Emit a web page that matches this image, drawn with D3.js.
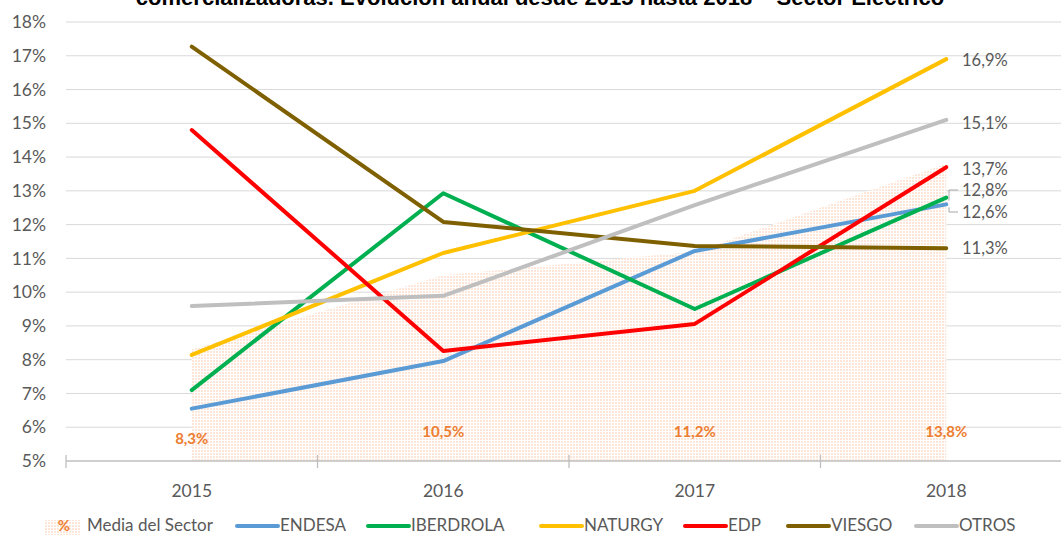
<!DOCTYPE html>
<meta charset="utf-8">
<style>
body { margin: 0; background: #fff; }
text { font-family: Lato, "Open Sans", sans-serif; fill: #595959; }
.titre { font-family: "Liberation Sans", Arial, sans-serif; font-weight: bold; fill: #000; font-size: 22px; }
.axe text { font-size: 17.5px; }
.leyenda text { font-size: 17px; }
.etiq { font-size: 16.5px; }
.media { fill: #ED7D31; font-weight: bold; font-size: 15px; }
</style>
<svg width="1061" height="535" id="mysvg"></svg>
<script src="https://cdnjs.cloudflare.com/ajax/libs/d3/7.8.5/d3.min.js"></script>
<script>

// datos
var years = ["2015", "2016", "2017", "2018"];
var media = [8.3, 10.5, 11.2, 13.8];
var endesa = [6.55, 7.96, 11.22, 12.6];
var iberdrola = [7.1, 12.93, 9.5, 12.8];
var naturgy = [8.14, 11.16, 13.0, 16.9];
var edp = [14.8, 8.26, 9.06, 13.7];
var viesgo = [17.27, 12.08, 11.37, 11.3];
var otros = [9.59, 9.89, 12.58, 15.1];
var yTicks = [5, 6, 7, 8, 9, 10, 11, 12, 13, 14, 15, 16, 17, 18];

var series = [
  { name: "ENDESA", values: endesa, color: "#5B9BD5" },
  { name: "IBERDROLA", values: iberdrola, color: "#00B050" },
  { name: "NATURGY", values: naturgy, color: "#FFC000" },
  { name: "EDP", values: edp, color: "#FF0000" },
  { name: "VIESGO", values: viesgo, color: "#7F6000" },
  { name: "OTROS", values: otros, color: "#BFBFBF" }
];

var svg = d3.select("svg");
var fmt = function(v) { return d3.format(".1f")(v).replace(".", ",") + "%"; };

var x = d3.scaleBand().domain(years).range([66, 1072]);
var y = d3.scaleLinear().domain([5, 18]).range([461, 22]);
var cx = function(i) { return x(years[i]) + x.bandwidth() / 2; };

// patron de puntos para el area
var defs = svg.append("defs");
var pat = defs.append("pattern").attr("id", "puntos")
  .attr("width", 3).attr("height", 3).attr("patternUnits", "userSpaceOnUse");
pat.append("rect").attr("width", 3).attr("height", 3).attr("fill", "#fff");
pat.append("rect").attr("width", 2).attr("height", 2).attr("fill", "#fde6d8");

// titulo (cortado arriba)
svg.append("text").attr("class", "titre")
  .attr("x", 540).attr("y", 5).attr("text-anchor", "middle")
  .text("comercializadoras. Evolución anual desde 2015 hasta 2018 – Sector Eléctrico");

// rejilla
svg.append("g").selectAll("line").data(yTicks.slice(1)).enter().append("line")
  .attr("x1", 66).attr("x2", 1061)
  .attr("y1", function(d) { return y(d); }).attr("y2", function(d) { return y(d); })
  .attr("stroke", "#d9d9d9").attr("stroke-width", 1);

// area media del sector
var area = d3.area()
  .x(function(d, i) { return cx(i); })
  .y0(y(5)).y1(function(d) { return y(d); });
svg.append("path").datum(media).attr("d", area).attr("fill", "url(#puntos)");

// eje y
var gy = svg.append("g").attr("class", "axe");
gy.selectAll("text").data(yTicks).enter().append("text")
  .attr("x", 46).attr("y", function(d) { return y(d); }).attr("dy", "0.35em")
  .attr("text-anchor", "end").text(function(d) { return d + "%"; });

// eje x
var gx = svg.append("g").attr("class", "axe");
gx.append("line").attr("x1", 66).attr("x2", 1061).attr("y1", y(5)).attr("y2", y(5))
  .attr("stroke", "#bfbfbf").attr("stroke-width", 1.3);
gx.selectAll(".tick").data(years).enter().append("line")
  .attr("x1", function(d) { return x(d); }).attr("x2", function(d) { return x(d); })
  .attr("y1", y(5) - 6).attr("y2", y(5) + 7)
  .attr("stroke", "#bfbfbf").attr("stroke-width", 1.3);
gx.selectAll("text").data(years).enter().append("text")
  .attr("x", function(d) { return x(d) + x.bandwidth() / 2; }).attr("y", 497)
  .attr("text-anchor", "middle").text(function(d) { return d; });

// etiquetas de la media
svg.append("g").selectAll("text").data(media).enter().append("text")
  .attr("class", "media")
  .attr("x", function(d, i) { return cx(i); })
  .attr("y", function(d, i) { return i == 0 ? 444 : 437; })
  .attr("text-anchor", "middle").text(fmt);

// lineas
var line = d3.line()
  .x(function(d, i) { return cx(i); })
  .y(function(d) { return y(d); });
svg.append("g").selectAll("path").data(series).enter().append("path")
  .attr("d", function(d) { return line(d.values); })
  .attr("fill", "none").attr("stroke", function(d) { return d.color; })
  .attr("stroke-width", 4).attr("stroke-linecap", "round").attr("stroke-linejoin", "round");

// etiquetas finales
var labelY = { "NATURGY": 60, "OTROS": 123, "EDP": 169, "IBERDROLA": 190, "ENDESA": 212, "VIESGO": 248 };
svg.append("g").selectAll("text").data(series).enter().append("text")
  .attr("class", "etiq")
  .attr("x", 962).attr("y", function(d) { return labelY[d.name]; }).attr("dy", "0.35em")
  .text(function(d) { return fmt(d.values[3]); });

// lineas guia
svg.append("path")
  .attr("d", "M958," + labelY.IBERDROLA + "H949V" + (y(iberdrola[3]) + 3))
  .attr("fill", "none").attr("stroke", "#a6a6a6").attr("stroke-width", 1);
svg.append("path")
  .attr("d", "M958," + labelY.ENDESA + "H949V" + (y(endesa[3]) + 3))
  .attr("fill", "none").attr("stroke", "#a6a6a6").attr("stroke-width", 1);

// leyenda
var lg = svg.append("g").attr("class", "leyenda");
lg.append("rect").attr("x", 45).attr("y", 520).attr("width", 36).attr("height", 15)
  .attr("fill", "url(#puntos)");
lg.append("text").attr("class", "media").attr("x", 64).attr("y", 531)
  .attr("text-anchor", "middle").style("font-size", "15px").text("%");
lg.append("text").attr("x", 87).attr("y", 531).text("Media del Sector");
var legX = [237, 368, 541, 685, 788, 916];
series.forEach(function(s, i) {
  lg.append("line").attr("x1", legX[i]).attr("x2", legX[i] + 41)
    .attr("y1", 526).attr("y2", 526)
    .attr("stroke", s.color).attr("stroke-width", 4).attr("stroke-linecap", "round");
  lg.append("text").attr("x", legX[i] + 43).attr("y", 531).text(s.name);
});

</script>
